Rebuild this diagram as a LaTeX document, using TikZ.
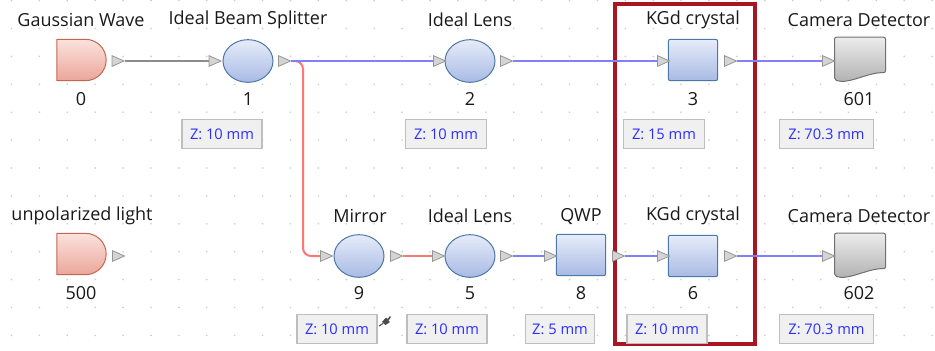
\documentclass[tikz,border=0pt]{standalone}
\usepackage{fontspec}
\setmainfont{Open Sans}
\usetikzlibrary{shapes.geometric,shapes.misc,calc}

\definecolor{dotgray}{RGB}{205,205,205}
\definecolor{labelink}{RGB}{25,25,25}
\definecolor{zink}{RGB}{45,45,255}
\definecolor{zfill}{RGB}{240,240,240}
\definecolor{zborder}{RGB}{190,190,190}
\definecolor{portfill}{RGB}{212,212,212}
\definecolor{portborder}{RGB}{150,150,150}
\definecolor{srctop}{RGB}{251,226,222}
\definecolor{srcbot}{RGB}{235,166,154}
\definecolor{srcborder}{RGB}{195,102,80}
\definecolor{opttop}{RGB}{230,236,249}
\definecolor{optbot}{RGB}{168,186,228}
\definecolor{optborder}{RGB}{77,119,168}
\definecolor{camtop}{RGB}{236,236,236}
\definecolor{cambot}{RGB}{174,174,174}
\definecolor{camborder}{RGB}{112,112,112}
\definecolor{beamgray}{RGB}{140,140,140}
\definecolor{beamblue}{RGB}{128,128,255}
\definecolor{beamred}{RGB}{255,118,118}
\definecolor{groupred}{RGB}{168,22,34}

\tikzset{every picture/.style={line width=0.75pt}}
\tikzset{
  source/.style={rounded rectangle, rounded rectangle west arc=none, draw=srcborder, top color=srctop, bottom color=srcbot, minimum width=37pt, minimum height=31pt, inner sep=0pt},
  lens/.style={ellipse, draw=optborder, top color=opttop, bottom color=optbot, minimum width=37.5pt, minimum height=32pt, inner sep=0pt},
  plate/.style={rectangle, rounded corners=1.5pt, draw=optborder, top color=opttop, bottom color=optbot, minimum width=37pt, minimum height=31pt, inner sep=0pt},
  camera/.style={rectangle, minimum width=37.5pt, minimum height=32pt, inner sep=0pt},
  camdraw/.style={draw=camborder, top color=camtop, bottom color=cambot, rounded corners=1.5pt},
  port/.style={isosceles triangle, isosceles triangle apex angle=50, isosceles triangle stretches, minimum width=8pt, minimum height=9pt, inner sep=0pt, draw=portborder, fill=portfill, line width=0.6pt},
  partlabel/.style={inner sep=0.75pt, text=labelink, font=\fontsize{13.5}{15}\selectfont},
  zbox/.style={draw=zborder, fill=zfill, line width=0.9pt, text=zink, minimum height=22pt, inner sep=0pt, font=\fontsize{11}{13}\selectfont},
  graybeam/.style={draw=beamgray, line width=1.5pt},
  bluebeam/.style={draw=beamblue, line width=1.5pt},
  redbeam/.style={draw=beamred, line width=1.5pt, rounded corners=6pt}
}
\newcommand{\detector}[1]{%
  \path[camdraw] (#1.north west) -- (#1.north east) -- ($(#1.south east)+(0,-8)$)
    .. controls ($(#1.south east)+(-17,-9)$) and ($(#1.south west)+(14,4)$) .. ($(#1.south west)+(0,-1)$) -- cycle;}

\begin{document}
\begin{tikzpicture}[x=0.75pt,y=0.75pt,yscale=-1,xscale=1]
\useasboundingbox (0,0) rectangle (935,350);

% grid
\foreach \i in {0,...,33}
  \foreach \j in {0,...,12}
    \fill[dotgray] (11.5+27.9*\i,0.6+27.9*\j) circle (0.7pt);

% group frame
\draw[groupred, line width=2.3pt] (615,4) rectangle (755,344);

%% upper row
\node[source] (gw) at (81.5,60) {};
\node[lens] (bs) at (248,61) {};
\node[lens] (lensa) at (470,61) {};
\node[plate] (kgda) at (693,60) {};
\node[camera] (cama) at (860,59) {};
\detector{cama}

\node[port] (gw-out) at (115.5,61) {};
\node[port] (bs-in) at (212.5,61) {};
\node[port] (bs-out) at (282,61) {};
\node[port] (lensa-in) at (437,61) {};
\node[port] (lensa-out) at (504,61) {};
\node[port] (kgda-in) at (661,61) {};
\node[port] (kgda-out) at (728,61) {};
\node[port] (cama-in) at (826,61) {};

%% lower row
\node[source] (src) at (81.5,254) {};
\node[lens] (mir) at (359,256) {};
\node[lens] (lensb) at (470,256) {};
\node[plate] (qwp) at (581,255) {};
\node[plate] (kgdb) at (693,256) {};
\node[camera] (camb) at (860,255) {};
\detector{camb}

\node[port] (src-out) at (116,256) {};
\node[port] (mir-in) at (324,256) {};
\node[port] (mir-out) at (394,256) {};
\node[port] (lensb-in) at (436,256) {};
\node[port] (lensb-out) at (504,256) {};
\node[port] (qwp-in) at (548,256) {};
\node[port] (qwp-out) at (616,256) {};
\node[port] (kgdb-in) at (661,256) {};
\node[port] (kgdb-out) at (728,256) {};
\node[port] (camb-in) at (826,256) {};

%% beams
\coordinate (turn) at (303,61);
\draw[redbeam] (bs-out.east) -- (turn) |- (mir-in.west);
\draw[graybeam] (gw-out.east) -- (bs-in.west);
\draw[bluebeam] (bs-out.east) -- (lensa-in.west);
\draw[bluebeam] (lensa-out.east) -- (kgda-in.west);
\draw[bluebeam] (kgda-out.east) -- (cama-in.west);
\draw[redbeam] (mir-out.east) -- (lensb-in.west);
\draw[bluebeam] (lensb-out.east) -- (qwp-in.west);
\draw[bluebeam] (qwp-out.east) -- (kgdb-in.west);
\draw[bluebeam] (kgdb-out.east) -- (camb-in.west);

% Text Node
\node[partlabel] (gw-name) at (81,20) {Gaussian Wave};
\node[partlabel] (bs-name) at (248,20) {Ideal Beam Splitter};
\node[partlabel] (lensa-name) at (470,20) {Ideal Lens};
\node[partlabel] (kgda-name) at (693,20) {KGd crystal};
\node[partlabel] (cama-name) at (859,20) {Camera Detector};
\node[partlabel] (src-name) at (82,216) {unpolarized light};
\node[partlabel] (mir-name) at (360,216) {Mirror};
\node[partlabel] (lensb-name) at (470,216) {Ideal Lens};
\node[partlabel] (qwp-name) at (581,216) {QWP};
\node[partlabel] (kgdb-name) at (693,216) {KGd crystal};
\node[partlabel] (camb-name) at (859,216) {Camera Detector};

% Text Node
\node[partlabel] (gw-id) at (81,99) {0};
\node[partlabel] (bs-id) at (248,99) {1};
\node[partlabel] (lensa-id) at (470,99) {2};
\node[partlabel] (kgda-id) at (693,99) {3};
\node[partlabel] (cama-id) at (859,99) {601};
\node[partlabel] (src-id) at (81,293) {500};
\node[partlabel] (mir-id) at (359,293) {9};
\node[partlabel] (lensb-id) at (470,293) {5};
\node[partlabel] (qwp-id) at (581,293) {8};
\node[partlabel] (kgdb-id) at (693,293) {6};
\node[partlabel] (camb-id) at (859,293) {602};

% Z boxes
\node[zbox, minimum width=60pt] (bs-z) at (222,134) {Z: 10 mm};
\node[zbox, minimum width=61pt] (lensa-z) at (446,134) {Z: 10 mm};
\node[zbox, minimum width=61pt] (kgda-z) at (664,134) {Z: 15 mm};
\node[zbox, minimum width=70pt] (cama-z) at (826.5,134) {Z: 70.3 mm};
\node[zbox, minimum width=60pt] (mir-z) at (337,329) {Z: 10 mm};
\node[zbox, minimum width=60pt] (lensb-z) at (447,329) {Z: 10 mm};
\node[zbox, minimum width=52pt] (qwp-z) at (560,329) {Z: 5 mm};
\node[zbox, minimum width=60pt] (kgdb-z) at (667,329) {Z: 10 mm};
\node[zbox, minimum width=70pt] (camb-z) at (826.5,329) {Z: 70.3 mm};

% pin
\fill[black!70] (382,322) -- (386,317.5) -- (387.5,319) -- (390,316) -- (391,317) -- (388.5,320.5) -- (390,322) -- (385.5,325) -- cycle;
\draw[black!70, line width=0.8pt] (383,323.5) -- (379,326);

\end{tikzpicture}
\end{document}
